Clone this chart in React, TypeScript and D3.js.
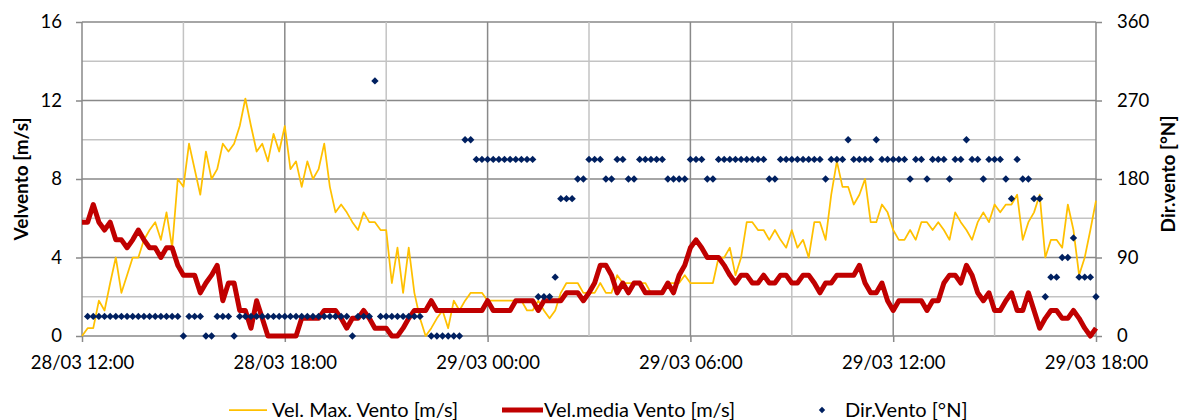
import { useRef, useEffect } from "react";
import * as d3 from "d3";

// 10-minute samples, 28/03 12:00 -> 29/03 18:00
const startTime = new Date(2013, 2, 28, 12, 0);
const stepMinutes = 10;

// Vel. Max. Vento [m/s]
const velMax = [
  0, 0.4, 0.4, 1.8, 1.3, 2.7, 4.0, 2.2, 3.1, 4.0, 4.0, 4.9, 5.4, 5.8, 4.9, 6.3, 4.5, 8.0,
  7.6, 9.8, 8.5, 7.2, 9.4, 8.0, 8.5, 9.8, 9.4, 9.8, 10.7, 12.1, 10.7, 9.4, 9.8, 8.9, 10.3, 9.4,
  10.7, 8.5, 8.9, 7.6, 8.9, 8.0, 8.5, 9.8, 7.6, 6.3, 6.7, 6.3, 5.8, 5.4, 6.3, 5.8, 5.8, 5.4,
  5.4, 2.7, 4.5, 2.2, 4.5, 2.2, 0.9, 0, 0.4, 0.9, 1.3, 0.4, 1.8, 1.3, 1.8, 2.2, 2.2, 2.2,
  1.8, 1.8, 1.8, 1.8, 1.8, 1.8, 1.8, 1.3, 1.3, 1.8, 1.3, 0.9, 1.3, 2.2, 2.7, 2.7, 2.7, 2.2,
  2.2, 2.2, 2.7, 2.2, 2.2, 3.1, 2.7, 2.7, 2.7, 2.7, 2.7, 2.2, 2.2, 2.2, 2.7, 2.7, 2.7, 3.1,
  2.7, 2.7, 2.7, 2.7, 2.7, 4.0, 4.0, 4.5, 3.1, 4.0, 5.8, 5.8, 5.4, 5.4, 4.9, 5.4, 4.9, 4.5,
  5.4, 4.5, 4.9, 4.0, 5.8, 5.8, 4.9, 7.2, 8.9, 7.6, 7.6, 6.7, 7.2, 8.0, 5.8, 5.8, 6.7, 6.3,
  5.4, 4.9, 4.9, 5.4, 4.9, 5.8, 5.8, 5.4, 5.8, 5.4, 4.9, 6.3, 5.8, 5.4, 4.9, 5.8, 6.3, 5.8,
  6.7, 6.3, 6.7, 6.7, 7.2, 4.9, 5.8, 6.3, 7.2, 4.0, 4.9, 4.9, 4.5, 6.7, 5.4, 3.1, 4.0, 5.4,
  6.9,
];

// Vel.media Vento [m/s]
const velMedia = [
  5.8, 5.8, 6.7, 5.8, 5.4, 5.8, 4.9, 4.9, 4.5, 4.9, 5.4, 4.9, 4.5, 4.5, 4.0, 4.5, 4.5, 3.6,
  3.1, 3.1, 3.1, 2.2, 2.7, 3.1, 3.6, 1.8, 2.7, 2.7, 1.3, 1.3, 0.4, 1.8, 0.9, 0, 0, 0,
  0, 0, 0, 0.9, 0.9, 0.9, 0.9, 1.3, 1.3, 1.3, 0.9, 0.4, 0.9, 0.9, 1.3, 0.9, 0.4, 0.4,
  0.4, 0, 0, 0.4, 0.9, 1.3, 1.3, 1.3, 1.8, 1.3, 1.3, 1.3, 1.3, 1.3, 1.3, 1.3, 1.3, 1.3,
  1.8, 1.3, 1.3, 1.3, 1.3, 1.8, 1.8, 1.8, 1.8, 1.3, 1.8, 1.8, 1.8, 1.8, 2.2, 2.2, 2.2, 1.8,
  2.2, 2.7, 3.6, 3.6, 3.1, 2.2, 2.7, 2.2, 2.7, 2.7, 2.2, 2.2, 2.2, 2.2, 2.7, 2.2, 3.1, 3.6,
  4.5, 4.9, 4.5, 4.0, 4.0, 4.0, 3.6, 3.1, 2.7, 3.1, 3.1, 2.7, 2.7, 3.1, 2.7, 2.7, 3.1, 3.1,
  2.7, 2.7, 3.1, 3.1, 2.7, 2.2, 2.7, 2.7, 3.1, 3.1, 3.1, 3.1, 3.6, 2.7, 2.2, 2.2, 2.7, 1.8,
  1.3, 1.8, 1.8, 1.8, 1.8, 1.8, 1.3, 1.8, 1.8, 2.7, 3.1, 3.1, 2.7, 3.6, 3.1, 2.2, 1.8, 2.2,
  1.3, 1.3, 1.8, 2.2, 1.3, 1.3, 2.2, 1.3, 0.4, 0.9, 1.3, 1.3, 0.9, 0.9, 1.3, 0.9, 0.4, 0,
  0.4,
];

// Dir.Vento [°N] (null = no reading)
const dirVento: (number | null)[] = [
  null, 22.5, 22.5, 22.5, 22.5, 22.5, 22.5, 22.5, 22.5, 22.5, 22.5, 22.5, 22.5, 22.5, 22.5, 22.5, 22.5, 22.5,
  0, 22.5, 22.5, 22.5, 0, 0, 22.5, 22.5, 22.5, 0, 22.5, 22.5, 22.5, 22.5, 22.5, 22.5, 22.5, 22.5,
  22.5, 22.5, 22.5, 22.5, 22.5, 22.5, 22.5, 22.5, 22.5, 22.5, 22.5, 22.5, 0, 22.5, 22.5, 22.5, 292.5, 22.5,
  22.5, 22.5, 22.5, 22.5, 22.5, 22.5, 22.5, null, 0, 0, 0, 0, 0, 0, 225, 225, 202.5, 202.5,
  202.5, 202.5, 202.5, 202.5, 202.5, 202.5, 202.5, 202.5, 202.5, 45, 45, 45, 67.5, 157.5, 157.5, 157.5, 180, 180,
  202.5, 202.5, 202.5, 180, 180, 202.5, 202.5, 180, 180, 202.5, 202.5, 202.5, 202.5, 202.5, 180, 180, 180, 180,
  202.5, 202.5, 202.5, 180, 180, 202.5, 202.5, 202.5, 202.5, 202.5, 202.5, 202.5, 202.5, 202.5, 180, 180, 202.5, 202.5,
  202.5, 202.5, 202.5, 202.5, 202.5, 202.5, 180, 202.5, 202.5, 202.5, 225, 202.5, 202.5, 202.5, 202.5, 225, 202.5, 202.5,
  202.5, 202.5, 202.5, 180, 202.5, 202.5, 180, 202.5, 202.5, 202.5, 180, 202.5, 202.5, 225, 202.5, 202.5, 180, 202.5,
  202.5, 202.5, 180, 157.5, 202.5, 180, 180, 157.5, 157.5, 45, 67.5, 67.5, 90, 90, 112.5, 67.5, 67.5, 67.5,
  45,
];

const leftTicks = [0, 4, 8, 12, 16];
const rightTicks = [0, 90, 180, 270, 360];

const legendItems = ["Vel. Max. Vento [m/s]", "Vel.media Vento [m/s]", "Dir.Vento [°N]"];

const WIDTH = 1181;
const HEIGHT = 420;
const FONT = "Lato, 'Open Sans', sans-serif";

const diamond = (r: number) => `M0,${-r}L${r},0L0,${r}L${-r},0Z`;

const WindChart = () => {
  const svgRef = useRef<SVGSVGElement>(null);

  useEffect(() => {
    const svg = d3.select(svgRef.current);
    svg.selectAll("*").remove();

    const margin = { top: 22, right: 85, bottom: 84, left: 82 };
    const x0 = margin.left;
    const x1 = WIDTH - margin.right;
    const y0 = HEIGHT - margin.bottom;
    const y1 = margin.top;

    const times = velMax.map((_, i) => d3.timeMinute.offset(startTime, i * stepMinutes));
    const endTime = times[times.length - 1];

    const x = d3.scaleTime().domain([startTime, endTime]).range([x0, x1]);
    const yL = d3.scaleLinear().domain([0, 16]).range([y0, y1]);
    const yR = d3.scaleLinear().domain([0, 360]).range([y0, y1]);

    const dark = "#898989";
    const light = "#c3c3c3";

    // grid
    const hGrid = d3.range(0, 17, 2);
    svg
      .append("g")
      .selectAll("line")
      .data(hGrid)
      .join("line")
      .attr("x1", x0)
      .attr("x2", x1)
      .attr("y1", (d) => yL(d))
      .attr("y2", (d) => yL(d))
      .attr("stroke", (d) => (d % 4 === 0 ? dark : light))
      .attr("stroke-width", 1.5);

    const vGrid = d3.timeHour.every(3)!.range(startTime, d3.timeMinute.offset(endTime, 1));
    svg
      .append("g")
      .selectAll("line")
      .data(vGrid)
      .join("line")
      .attr("x1", (d) => x(d))
      .attr("x2", (d) => x(d))
      .attr("y1", y1)
      .attr("y2", y0)
      .attr("stroke", (d) => (d.getHours() % 6 === 0 ? dark : light))
      .attr("stroke-width", 1.5);

    // axes
    const styleAxis = (g: d3.Selection<SVGGElement, unknown, null, undefined>) => {
      g.select(".domain").remove();
      g.selectAll("line").attr("stroke", dark).attr("stroke-width", 1.5);
      g.selectAll("text").attr("fill", "#000").style("font-size", "18.5px").style("font-family", FONT);
    };

    svg
      .append("g")
      .attr("transform", `translate(${x0},0)`)
      .call(d3.axisLeft(yL).tickValues(leftTicks).tickSize(6).tickPadding(14))
      .call(styleAxis);

    svg
      .append("g")
      .attr("transform", `translate(${x1},0)`)
      .call(d3.axisRight(yR).tickValues(rightTicks).tickSize(6).tickPadding(15))
      .call(styleAxis);

    svg
      .append("g")
      .attr("transform", `translate(0,${y0})`)
      .call(
        d3
          .axisBottom(x)
          .ticks(d3.timeHour.every(6))
          .tickFormat((d) => d3.timeFormat("%d/%m %H:%M")(d as Date))
          .tickSize(6)
          .tickPadding(14)
      )
      .call(styleAxis);

    // axis titles
    svg
      .append("text")
      .attr("transform", `translate(28,179) rotate(-90)`)
      .attr("text-anchor", "middle")
      .style("font-family", FONT)
      .style("font-weight", "bold")
      .style("font-size", "19px")
      .text("Velvento [m/s]");

    svg
      .append("text")
      .attr("transform", `translate(1175,174) rotate(-90)`)
      .attr("text-anchor", "middle")
      .style("font-family", FONT)
      .style("font-weight", "bold")
      .style("font-size", "19px")
      .text("Dir.vento [°N]");

    // series
    const line = d3
      .line<number>()
      .x((_, i) => x(times[i]))
      .y((d) => yL(d));

    svg
      .append("path")
      .datum(velMax)
      .attr("fill", "none")
      .attr("stroke", "#ffc000")
      .attr("stroke-width", 1.75)
      .attr("stroke-linejoin", "round")
      .attr("d", line);

    svg
      .append("path")
      .datum(velMedia)
      .attr("fill", "none")
      .attr("stroke", "#c00000")
      .attr("stroke-width", 5)
      .attr("stroke-linejoin", "round")
      .attr("d", line);

    const dirPoints = dirVento
      .map((d, i) => ({ t: times[i], d }))
      .filter((p) => p.d !== null) as { t: Date; d: number }[];

    svg
      .append("g")
      .selectAll("path")
      .data(dirPoints)
      .join("path")
      .attr("transform", (p) => `translate(${x(p.t)},${yR(p.d)})`)
      .attr("d", diamond(3.7))
      .attr("fill", "#002060");

    // legend
    const ly = 410;
    const legend = svg.append("g").style("font-family", FONT).style("font-size", "20px");

    legend
      .append("line")
      .attr("x1", 229)
      .attr("x2", 267)
      .attr("y1", ly)
      .attr("y2", ly)
      .attr("stroke", "#ffc000")
      .attr("stroke-width", 1.75);
    legend.append("text").attr("x", 272).attr("y", ly).attr("dy", "0.35em").text(legendItems[0]);

    legend
      .append("line")
      .attr("x1", 502)
      .attr("x2", 543)
      .attr("y1", ly)
      .attr("y2", ly)
      .attr("stroke", "#c00000")
      .attr("stroke-width", 5);
    legend.append("text").attr("x", 544).attr("y", ly).attr("dy", "0.35em").text(legendItems[1]);

    legend
      .append("path")
      .attr("transform", `translate(822,${ly})`)
      .attr("d", diamond(3.2))
      .attr("fill", "#002060");
    legend.append("text").attr("x", 845).attr("y", ly).attr("dy", "0.35em").text(legendItems[2]);
  }, []);

  return (
    <svg
      ref={svgRef}
      width={WIDTH}
      height={HEIGHT}
      style={{ position: "absolute", left: 0, top: 0, background: "#fff" }}
    ></svg>
  );
};

export default function App() {
  return <WindChart />;
}
